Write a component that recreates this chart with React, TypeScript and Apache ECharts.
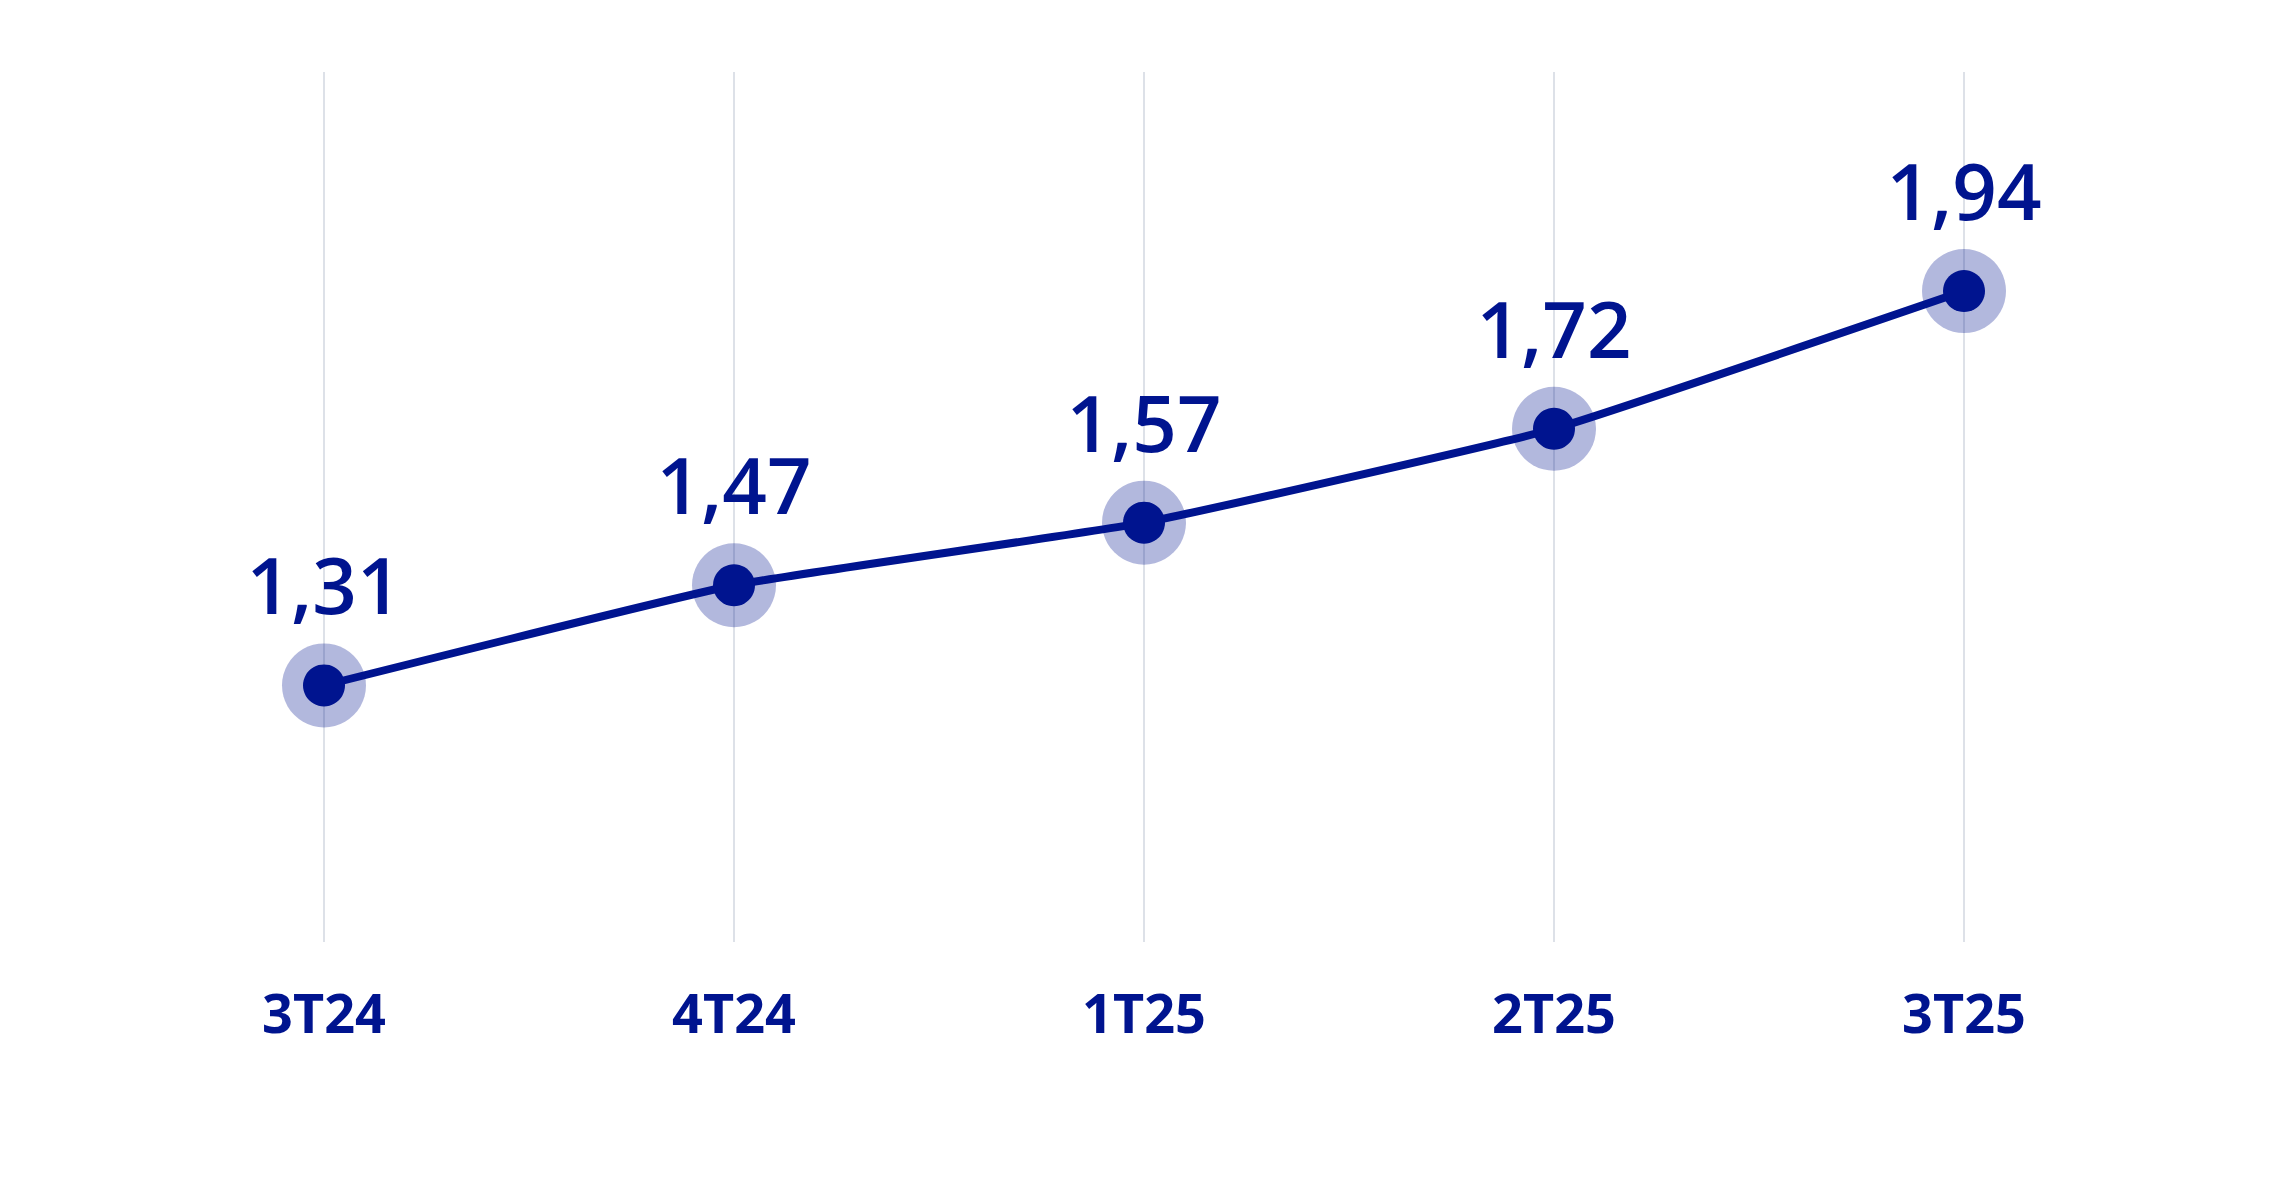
import React, { useEffect, useRef } from "react";
import * as echarts from "echarts";

const categories = ["3T24", "4T24", "1T25", "2T25", "3T25"];
const values = [1.31, 1.47, 1.57, 1.72, 1.94];

const MAIN = "#00148f";
const HALO = "rgba(0, 20, 143, 0.3)";

export default function App() {
  const ref = useRef<HTMLDivElement>(null);
  useEffect(() => {
    if (!ref.current) return;
    const chart = echarts.init(ref.current, undefined, { renderer: "svg" });
    chart.setOption({
      animation: false,
      backgroundColor: "#ffffff",
      grid: { left: 324, right: 329, top: 72, bottom: 246 },
      xAxis: {
        type: "category",
        data: categories,
        boundaryGap: false,
        axisLine: { show: false },
        axisTick: { show: false },
        splitLine: { show: true, lineStyle: { color: "#dde1e8", width: 2 } },
        axisLabel: {
          color: MAIN,
          fontFamily: "Noto Sans",
          fontWeight: "bold",
          fontSize: 54,
          lineHeight: 56,
          margin: 42,
        },
      },
      yAxis: {
        type: "value",
        min: 0.9,
        max: 2.29,
        show: false,
        splitLine: { show: false },
      },
      series: [
        {
          type: "scatter",
          data: values,
          symbol: "circle",
          symbolSize: 84,
          itemStyle: { color: HALO, opacity: 1 },
          z: 1,
          silent: true,
        },
        {
          type: "line",
          data: values,
          smooth: 0.12,
          symbol: "circle",
          symbolSize: 42,
          showAllSymbol: true,
          lineStyle: { color: MAIN, width: 8 },
          itemStyle: { color: MAIN, borderWidth: 0 },
          z: 3,
          label: {
            show: true,
            position: "top",
            distance: 40,
            color: MAIN,
            fontFamily: "Open Sans",
            fontWeight: 600,
            fontSize: 78,
            lineHeight: 80,
            formatter: (p: any) => String(p.value).replace(".", ","),
          },
        },
      ],
    });
    return () => chart.dispose();
  }, []);
  return (
    <div
      ref={ref}
      style={{ position: "absolute", left: 0, top: 0, width: 2293, height: 1188 }}
    />
  );
}
